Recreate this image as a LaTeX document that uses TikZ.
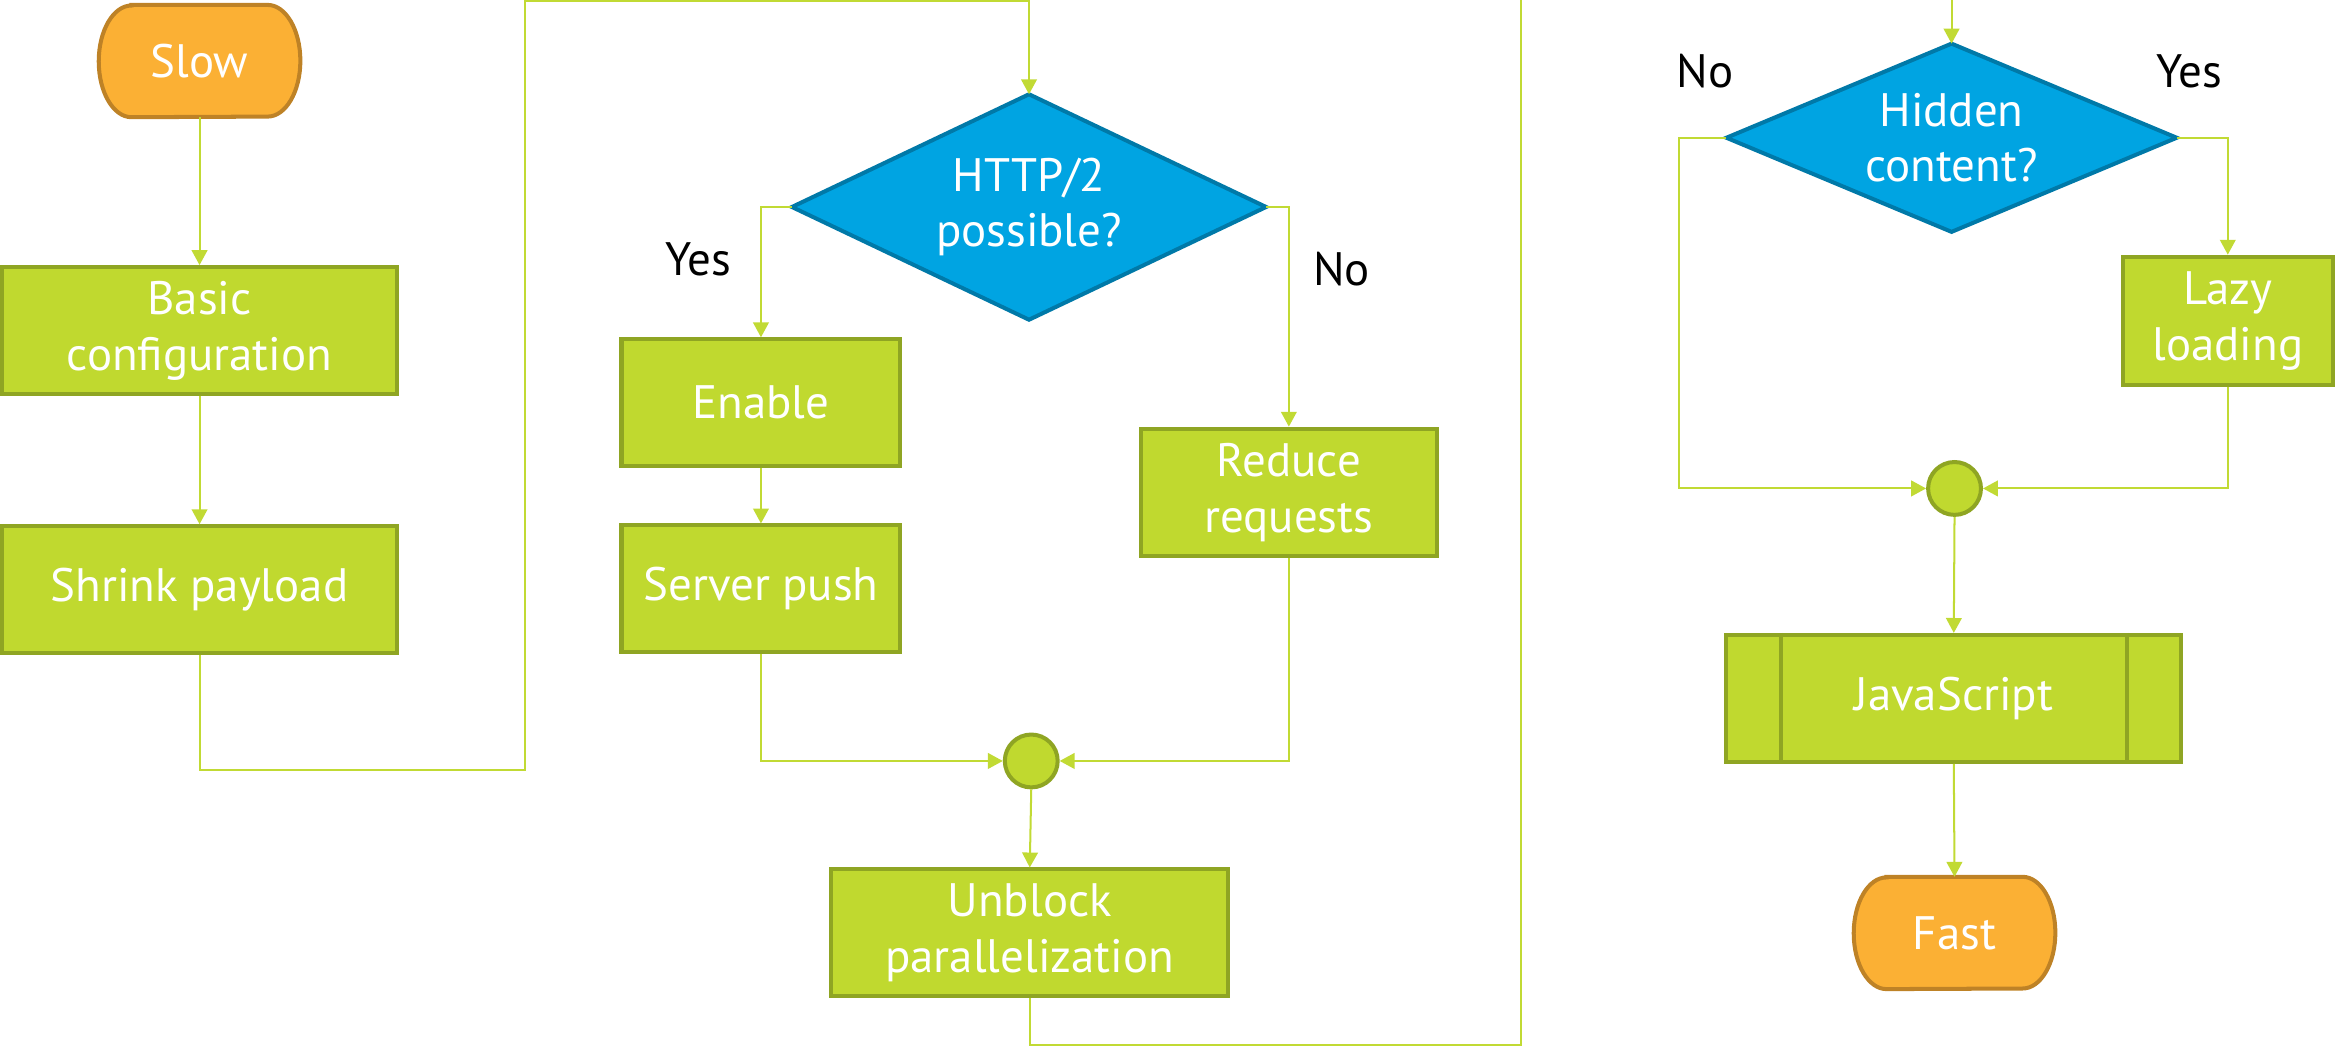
\documentclass[tikz,border=0pt]{standalone}
\usepackage{fontspec}
\setmainfont{PT Sans}
\usetikzlibrary{arrows.meta,backgrounds}
\definecolor{gfill}{RGB}{192,217,47}
\definecolor{gline}{RGB}{143,165,35}
\definecolor{conn}{RGB}{193,218,52}
\definecolor{ofill}{RGB}{251,176,52}
\definecolor{oline}{RGB}{190,130,38}
\definecolor{bfill}{RGB}{0,164,226}
\definecolor{bline}{RGB}{0,121,168}
\tikzset{
  box/.style={rectangle, draw=gline, fill=gfill, line width=2.7pt, text=white,
    align=center, inner sep=0pt, minimum height=85.3pt},
  term/.style={rectangle, minimum width=135pt, minimum height=75pt, inner sep=0pt, text=white},
  decision/.style={rectangle, inner sep=0pt, text=white, align=center},
  termline/.style={draw=oline, fill=ofill, line width=2.7pt},
  decline/.style={draw=bline, fill=bfill, line width=2.7pt, line join=miter},
  junction/.style={circle, draw=gline, fill=gfill, line width=2.7pt, minimum size=35.5pt, inner sep=0pt},
  conn/.style={draw=conn, line width=1.35pt, -{Triangle[width=10.5pt,length=10pt]}},
  lbl/.style={text=black, inner sep=0pt}
}
\newcommand\termshape[1]{%
  \draw[termline] ([xshift=22pt]#1.north west) -- ([xshift=-22pt]#1.north east)
    arc[start angle=90,end angle=-90,x radius=22pt,y radius=37.5pt]
    -- ([xshift=22pt]#1.south west)
    arc[start angle=270,end angle=90,x radius=22pt,y radius=37.5pt] -- cycle;}
\newcommand\decshape[1]{%
  \draw[decline] (#1.north) -- (#1.east) -- (#1.south) -- (#1.west) -- cycle;}
\begin{document}
\begin{tikzpicture}[x=1pt,y=-1pt,font=\fontsize{31.5}{37.5}\selectfont]
\useasboundingbox (0,0) rectangle (1568,703.8);
\clip (0,0) rectangle (1568,703.8);

% nodes
\node[term] (slow) at (134,41) {Slow};
\node[box, minimum width=265.3pt] (basic) at (134,222) {Basic\\configuration};
\node[box, minimum width=265.3pt] (shrink) at (134,396) {Shrink payload};

\node[decision, minimum width=318pt, minimum height=151pt] (http) at (691,139) {HTTP/2\\possible?};
\node[box, minimum width=187.3pt] (enable) at (511,270.5) {Enable};
\node[box, minimum width=187.3pt] (server) at (511,395.5) {Server push};
\node[box, minimum width=198.3pt] (reduce) at (865.5,330.5) {Reduce\\requests};
\node[junction] (j1) at (692.5,511) {};
\node[box, minimum width=266.3pt] (unblock) at (691.5,626.5) {Unblock\\parallelization};

\node[decision, minimum width=302pt, minimum height=126pt] (hidden) at (1310.5,92.5) {Hidden\\content?};
\node[box, minimum width=141.3pt, minimum height=86.3pt] (lazy) at (1496,215.5) {Lazy\\loading};
\node[junction] (j2) at (1312.5,328) {};
\node[box, minimum width=305.3pt] (js) at (1312,469) {JavaScript};
\node[term] (fast) at (1312.5,626.5) {Fast};

\node[lbl] (l1) at (469,174) {Yes};
\node[lbl] (l2) at (901,181) {No};
\node[lbl] (l3) at (1145,48) {No};
\node[lbl] (l4) at (1470,48) {Yes};

\begin{pgfonlayer}{background}
  \termshape{slow}
  \termshape{fast}
  \decshape{http}
  \decshape{hidden}
\end{pgfonlayer}

\draw[gline, line width=2.7pt] ([xshift=38pt]js.north west) -- ([xshift=38pt]js.south west);
\draw[gline, line width=2.7pt] ([xshift=-38pt]js.north east) -- ([xshift=-38pt]js.south east);

% connectors
\draw[conn] (slow.south) -- (basic.north);
\draw[conn] (basic.south) -- (shrink.north);
\draw[conn] (shrink.south) -- (134,517) -| (352.5,0.8) -| (http.north);
\draw[conn] (http.west) -| (enable.north);
\draw[conn] (http.east) -| (reduce.north);
\draw[conn] (enable.south) -- (server.north);
\draw[conn] (server.south) |- (j1.west);
\draw[conn] (reduce.south) |- (j1.east);
\draw[conn] (j1.south) -- (unblock.north);
\draw[conn] (unblock.south) -- (691.5,701.5) -| (1021.5,-8) -| (hidden.north);
\draw[conn] (hidden.west) -- (1127.5,92.5) |- (j2.west);
\draw[conn] (hidden.east) -| (lazy.north);
\draw[conn] (lazy.south) |- (j2.east);
\draw[conn] (j2.south) -- (js.north);
\draw[conn] (js.south) -- (fast.north);
\end{tikzpicture}
\end{document}
